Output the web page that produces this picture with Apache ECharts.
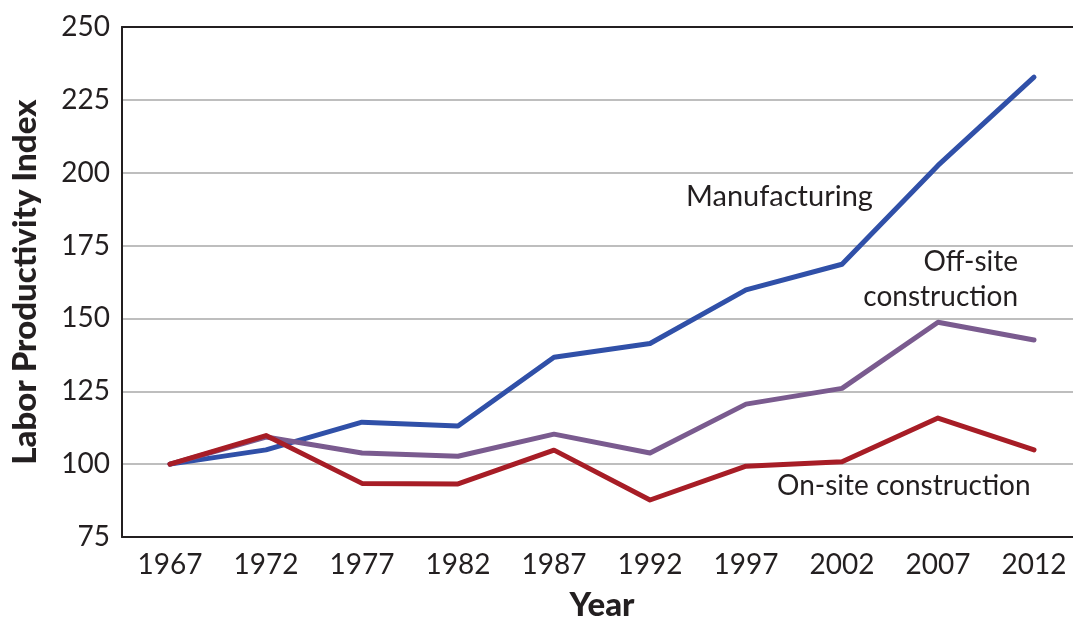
<!DOCTYPE html>
<html style="height: 100%">
<head>
    <meta charset="utf-8">
    <title>Labor Productivity Index</title>
</head>
<body style="margin: 0; height: 100%; background: #fff">
<div id="container" style="width: 1073px; height: 621px"></div>

<script src="https://cdn.jsdelivr.net/npm/echarts@6/dist/echarts.min.js" type="text/javascript"></script>

<script type="text/javascript">
    var years = ['1967', '1972', '1977', '1982', '1987', '1992', '1997', '2002', '2007', '2012'];
    var manufacturing = [100, 104.9, 114.4, 113.1, 136.7, 141.4, 159.8, 168.6, 202.5, 232.8];
    var offSite = [100, 109.3, 103.8, 102.7, 110.3, 103.8, 120.6, 126, 148.7, 142.6];
    var onSite = [100, 109.8, 93.4, 93.2, 104.8, 87.7, 99.3, 100.8, 115.8, 104.9];

    var font = 'Lato, "Noto Sans", sans-serif';
    var ink = '#231f20';

    var dom = document.getElementById('container');
    var myChart = echarts.init(dom);

    function line(name, data, color) {
        return {
            name: name,
            type: 'line',
            data: data,
            symbol: 'none',
            lineStyle: {color: color, width: 5, cap: 'round', join: 'round'},
            itemStyle: {color: color},
            animation: false
        };
    }

    var option = {
        backgroundColor: '#fff',
        grid: {left: 122, top: 27, right: -9, bottom: 84, outerBoundsMode: 'none', containLabel: false},
        xAxis: [{
            type: 'category',
            data: years,
            boundaryGap: true,
            axisLine: {lineStyle: {color: ink, width: 2}},
            axisTick: {show: false},
            axisLabel: {color: ink, fontFamily: font, fontSize: 28, margin: 14},
            name: 'Year',
            nameLocation: 'middle',
            nameGap: 52,
            nameTextStyle: {color: ink, fontFamily: font, fontSize: 33, fontWeight: 900}
        }, {
            type: 'category',
            data: years,
            position: 'top',
            axisLine: {lineStyle: {color: ink, width: 2}},
            axisTick: {show: false},
            axisLabel: {show: false}
        }],
        yAxis: {
            type: 'value',
            min: 75,
            max: 250,
            interval: 25,
            axisLine: {show: true, lineStyle: {color: ink, width: 2}},
            axisTick: {show: false},
            axisLabel: {color: ink, fontFamily: font, fontSize: 28, margin: 12},
            splitLine: {lineStyle: {color: '#a9a9a9', width: 1.5}},
            name: 'Labor Productivity Index',
            nameLocation: 'middle',
            nameGap: 80,
            nameTextStyle: {color: ink, fontFamily: font, fontSize: 33, fontWeight: 900}
        },
        series: [
            line('Manufacturing', manufacturing, '#3050a8'),
            line('Off-site construction', offSite, '#7a5b8f'),
            line('On-site construction', onSite, '#a71d26')
        ],
        graphic: [
            {type: 'text', left: 686, top: 182, style: {text: 'Manufacturing', font: '29px ' + font, fill: ink}},
            {type: 'text', right: 55, top: 248, style: {text: 'Off-site', font: '28px ' + font, fill: ink}},
            {type: 'text', right: 55, top: 283, style: {text: 'construction', font: '28px ' + font, fill: ink}},
            {type: 'text', left: 777, top: 472, style: {text: 'On-site construction', font: '28px ' + font, fill: ink}}
        ]
    };

    myChart.setOption(option);
</script>
</body>
</html>
